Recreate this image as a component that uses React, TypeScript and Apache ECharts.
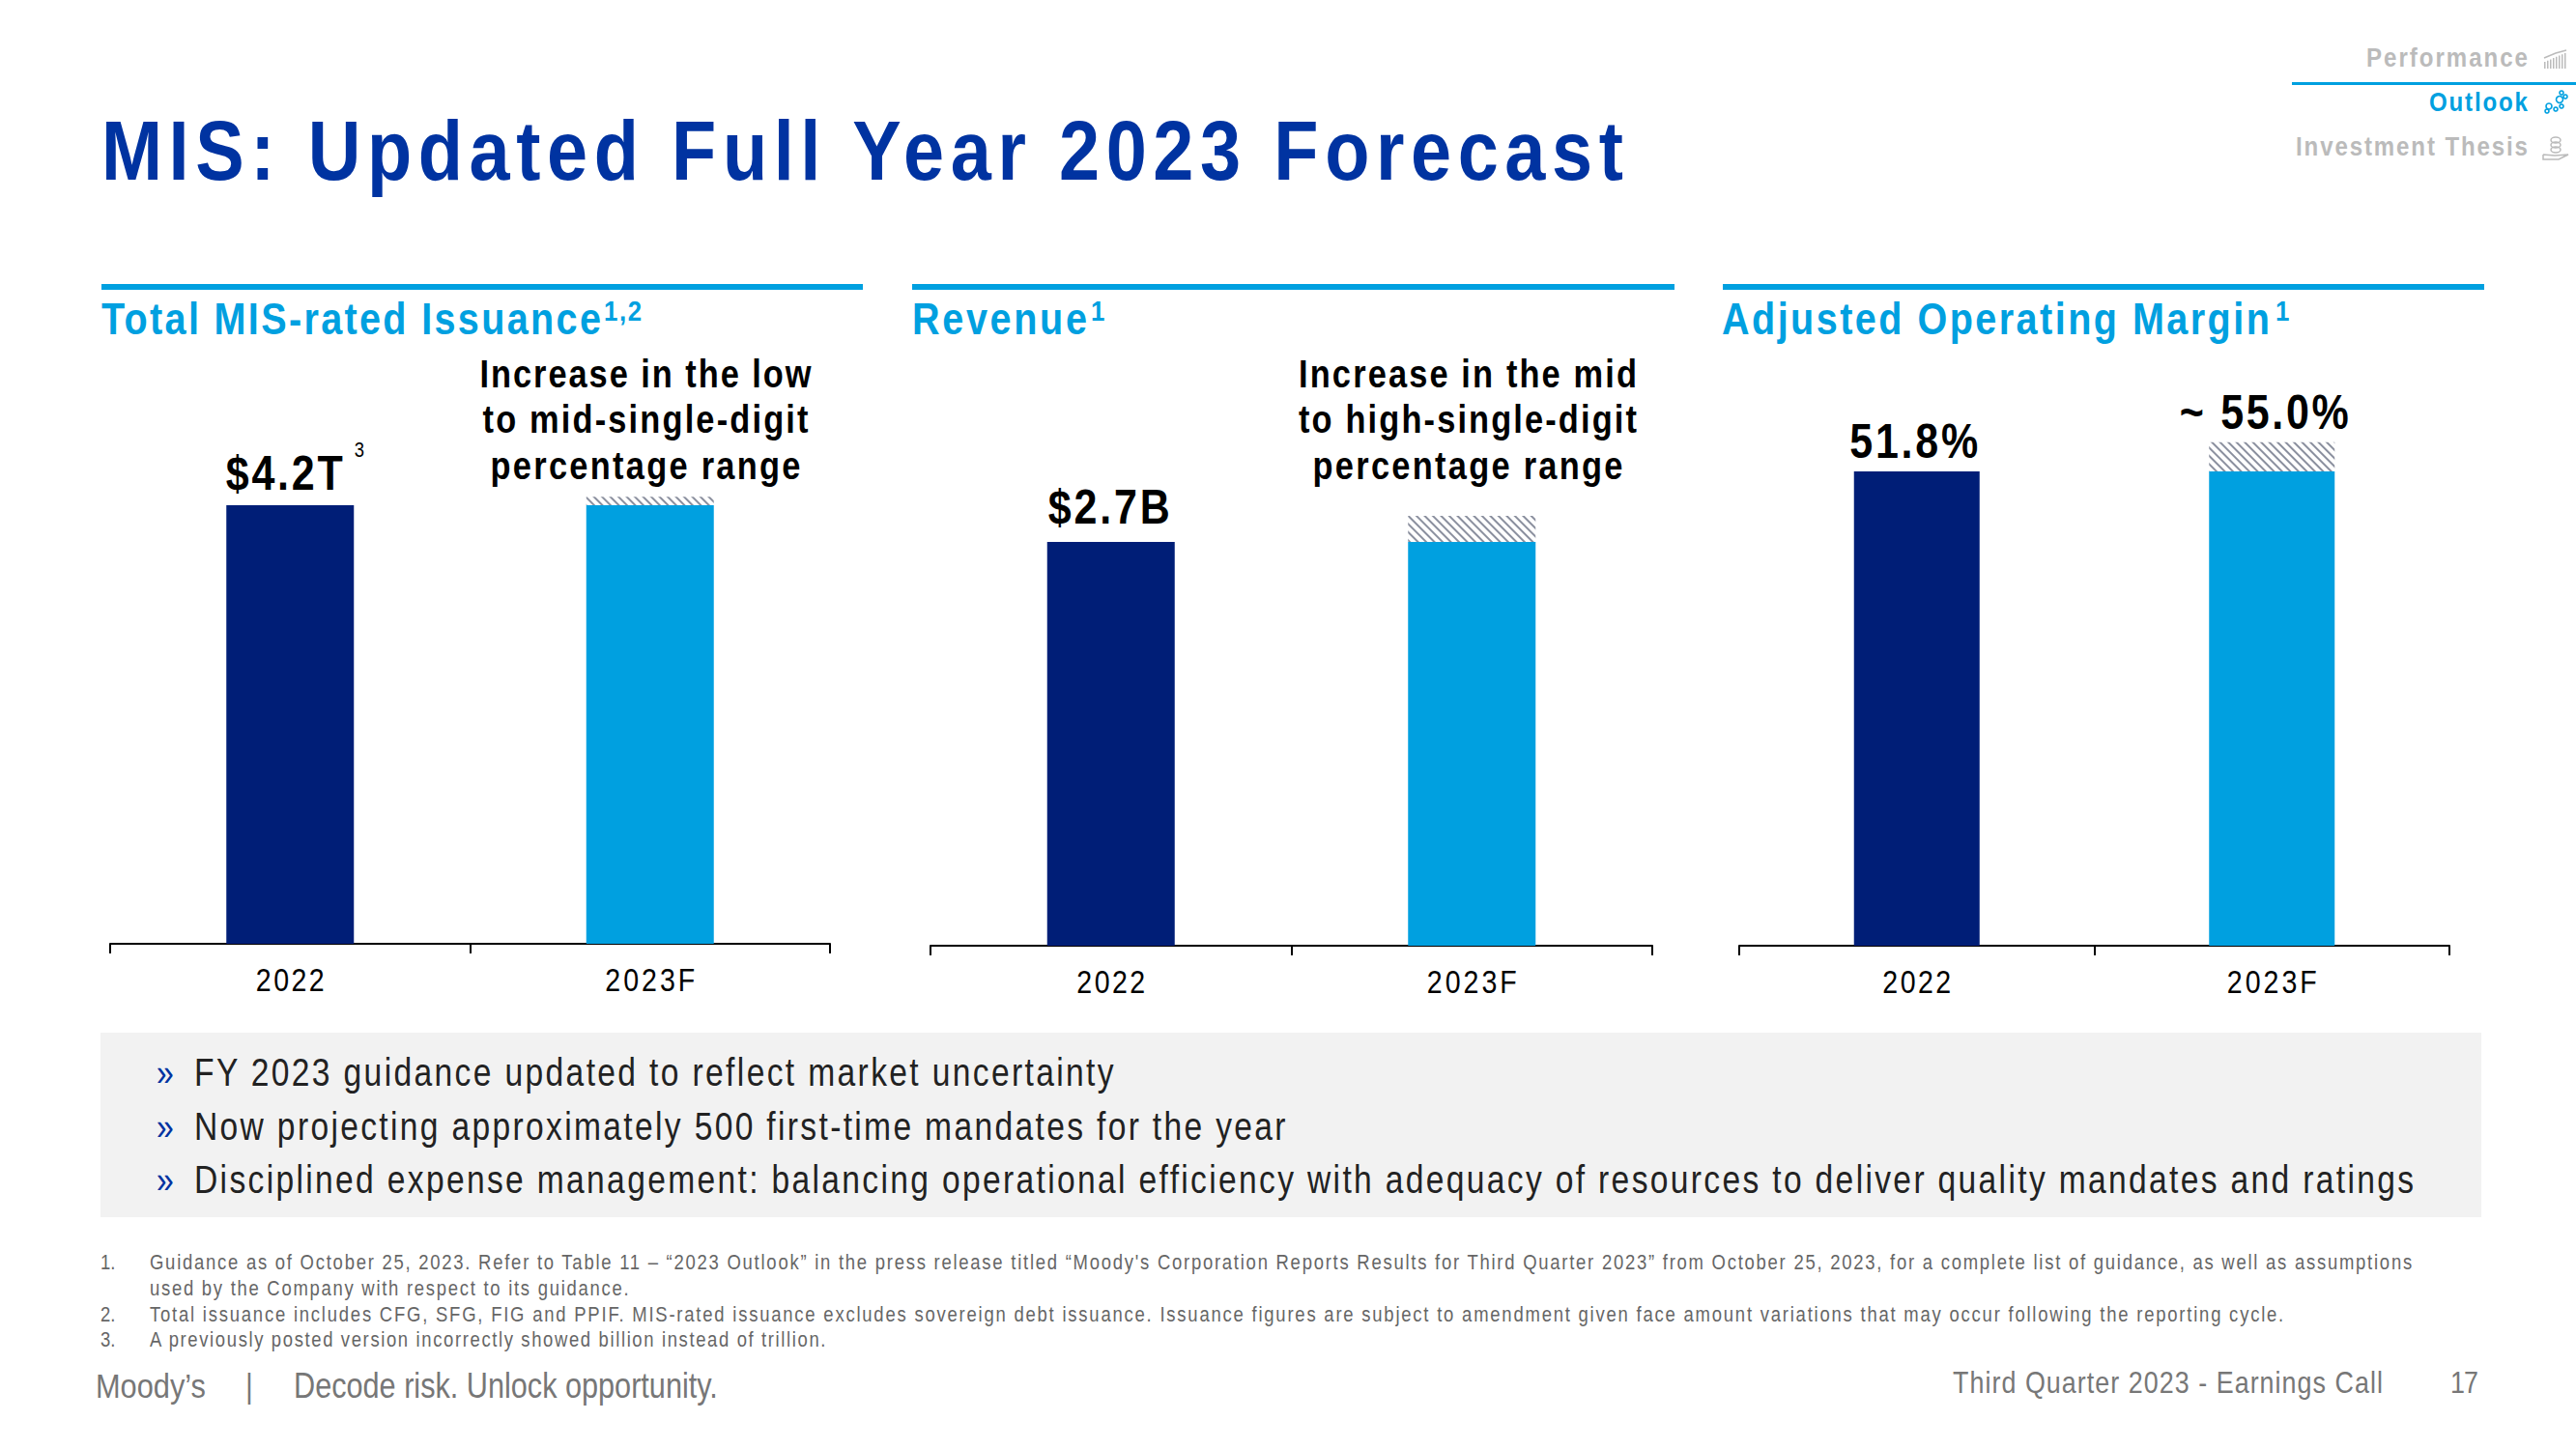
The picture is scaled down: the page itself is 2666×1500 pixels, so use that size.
import React, { useEffect, useRef } from "react";
import * as echarts from "echarts";

const categories = ["2022", "2023F"];
const issuance = [4.2, 4.2];
const issuanceRange = [null, 0.08];
const revenue = [2.7, 2.7];
const revenueRange = [null, 0.175];
const margin = [51.8, 51.8];
const marginRange = [null, 3.2];
const headers = ["Total MIS-rated Issuance", "Revenue", "Adjusted Operating Margin"];
const issuanceNote = ["Increase in the low", "to mid-single-digit", "percentage range"];
const revenueNote = ["Increase in the mid", "to high-single-digit", "percentage range"];
const bullets = [
  "FY 2023 guidance updated to reflect market uncertainty",
  "Now projecting approximately 500 first-time mandates for the year",
  "Disciplined expense management: balancing operational efficiency with adequacy of resources to deliver quality mandates and ratings",
];
const footnotes = [
  "Guidance as of October 25, 2023. Refer to Table 11 – “2023 Outlook” in the press release titled “Moody's Corporation Reports Results for Third Quarter 2023” from October 25, 2023, for a complete list of guidance, as well as assumptions",
  "used by the Company with respect to its guidance.",
  "Total issuance includes CFG, SFG, FIG and PPIF. MIS-rated issuance excludes sovereign debt issuance. Issuance figures are subject to amendment given face amount variations that may occur following the reporting cycle.",
  "A previously posted version incorrectly showed billion instead of trillion.",
];

const SANS = "'Liberation Sans',Arial,sans-serif";
const NAVY = "#001E77";
const SKY = "#00A0E0";
const TITLE = "#0033A1";
const GREY = "#BBBBBB";
const SQUEEZE_BOLD = 0.86;
const SQUEEZE_REGULAR = 0.84;

// target rendered width of each string: glyphs are condensed, the rest goes to letter spacing
const widths: Record<string, number> = {
  "MIS: Updated Full Year 2023 Forecast": 1575,
  [headers[0]]: 517, [headers[1]]: 181, [headers[2]]: 567,
  [issuanceNote[0]]: 343, [issuanceNote[1]]: 337, [issuanceNote[2]]: 321,
  [revenueNote[0]]: 350, [revenueNote[1]]: 350,
  "$4.2T": 121, "$2.7B": 126, "51.8%": 133, "~ 55.0%": 175,
  "2022": 71, "2023F": 93,
  Performance: 167, Outlook: 102, "Investment Thesis": 240,
  [bullets[0]]: 952, [bullets[1]]: 1130, [bullets[2]]: 2298,
  [footnotes[0]]: 2343, [footnotes[1]]: 496, [footnotes[2]]: 2210, [footnotes[3]]: 700,
  "Third Quarter 2023 - Earnings Call": 445, "17": 29,
  "1,2": 39,
};
// strings condensed to their width with no added spacing
const fitted: Record<string, number> = {
  "Moody’s": 114, "Decode risk. Unlock opportunity.": 439,
};

function t(text: string, x: number, y: number, size: number, opts: any = {}) {
  return {
    type: "text", x, y, silent: true,
    style: {
      text, fontSize: size, fontFamily: SANS, fontWeight: opts.weight || "normal",
      fill: opts.fill || "#000", textAlign: opts.align || "left", textVerticalAlign: "middle",
    },
  };
}
const rect = (x: number, y: number, w: number, h: number, fill: string) => ({
  type: "rect", silent: true, shape: { x, y, width: w, height: h }, style: { fill },
});
const dot = (cx: number, cy: number, r: number, stroke: string) => ({
  type: "circle", silent: true, shape: { cx, cy, r }, style: { fill: "none", stroke, lineWidth: 1.6 },
});

function panel(i: number, left: number, width: number, axisY: number, max: number, height: number, base: number[], range: (number | null)[], labels: any[]) {
  const hatch = {
    color: "#8A8F9E", backgroundColor: "#FFFFFF", symbol: "rect",
    dashArrayX: [1, 0], dashArrayY: [2, 4], rotation: Math.PI / 4, symbolSize: 1,
  };
  return {
    grid: { left, width, top: axisY - height, height },
    xAxis: {
      type: "category", gridIndex: i, data: categories,
      axisLine: { show: true, lineStyle: { color: "#000", width: 2 } },
      axisTick: { show: true, length: 10, alignWithLabel: false, lineStyle: { color: "#000", width: 2 } },
      axisLabel: { color: "#000", fontSize: 34, fontFamily: SANS, margin: i === 0 ? 21 : 21 },
    },
    yAxis: { type: "value", gridIndex: i, min: 0, max, show: false },
    series: [
      {
        type: "bar", xAxisIndex: i, yAxisIndex: i, stack: "s" + i, barWidth: i === 2 ? 130 : 132,
        data: base.map((v, k) => ({
          value: v,
          itemStyle: { color: k === 0 ? NAVY : SKY },
          label: k === 0 ? labels[0] : { show: false },
        })),
      },
      {
        type: "bar", xAxisIndex: i, yAxisIndex: i, stack: "s" + i, barWidth: i === 2 ? 130 : 132,
        data: range.map((v) => ({
          value: v,
          itemStyle: { color: "#FFFFFF", decal: hatch },
          label: labels[1] || { show: false },
        })),
      },
    ],
  };
}

const lab = (text: string, dx: number, dist: number) => ({
  show: true, position: "top", formatter: text, distance: dist, offset: [dx, 0],
  fontSize: 50, fontWeight: "bold", fontFamily: SANS, color: "#000",
});

export default function App() {
  const ref = useRef<HTMLDivElement>(null);
  useEffect(() => {
    const chart = echarts.init(ref.current!, undefined, { renderer: "svg" });
    const p = [
      panel(0, 114, 745, 977, 5, 540.5, issuance, issuanceRange, [lab("$4.2T", -6, 8)]),
      panel(1, 963, 747, 979, 3.2, 495.4, revenue, revenueRange, [lab("$2.7B", -2, 11)]),
      panel(2, 1800, 735, 979, 60, 568.7, margin, marginRange, [lab("51.8%", -3, 6), lab("~ 55.0%", -8, 6)]),
    ];
    const graphic: any[] = [
      rect(104, 1069, 2464, 191, "#F2F2F2"),
      rect(105, 294, 788, 6, SKY), rect(944, 294, 789, 6, SKY), rect(1783, 294, 788, 6, SKY),
      rect(2372, 85, 294, 3, SKY),
      t("MIS: Updated Full Year 2023 Forecast", 105, 155, 88, { weight: "bold", fill: TITLE }),
      t(headers[0], 105, 330, 46, { weight: "bold", fill: SKY }),
      t("1,2", 625, 322, 30, { weight: "bold", fill: SKY }),
      t(headers[1], 944, 330, 46, { weight: "bold", fill: SKY }),
      t("1", 1129, 322, 30, { weight: "bold", fill: SKY }),
      t(headers[2], 1782, 330, 46, { weight: "bold", fill: SKY }),
      t("1", 2355, 322, 30, { weight: "bold", fill: SKY }),
      t("3", 372, 465, 22, { align: "center" }),
      ...issuanceNote.map((s, i) => t(s, 668, 387 + i * 47.5, 40, { weight: "bold", align: "center" })),
      ...revenueNote.map((s, i) => t(s, 1519, 387 + i * 47.5, 40, { weight: "bold", align: "center" })),
      t("Performance", 2616, 59, 28, { weight: "bold", fill: GREY, align: "right" }),
      t("Outlook", 2616, 105, 28, { weight: "bold", fill: SKY, align: "right" }),
      t("Investment Thesis", 2616, 151, 28, { weight: "bold", fill: GREY, align: "right" }),
      ...[0, 1, 2, 3, 4, 5, 6, 7].map((k) => rect(2633 + k * 3, 64 - k * 1.3, 1.5, 7 + k * 1.3, GREY)),
      { type: "polyline", silent: true, shape: { points: [[2633, 60], [2645, 55], [2656, 52]] }, style: { stroke: GREY, fill: "none", lineWidth: 1.5 } },
      ...[[2636, 115, 2], [2638, 110, 3], [2645, 113, 2], [2651, 110, 2], [2649, 103, 3.5], [2655, 100, 2], [2651, 96, 2]].map((c) => dot(c[0], c[1], c[2], SKY)),
      { type: "ellipse", silent: true, shape: { cx: 2645, cy: 145, rx: 5, ry: 3 }, style: { fill: "none", stroke: GREY, lineWidth: 1.5 } },
      { type: "ellipse", silent: true, shape: { cx: 2645, cy: 150, rx: 5, ry: 3 }, style: { fill: "none", stroke: GREY, lineWidth: 1.5 } },
      { type: "ellipse", silent: true, shape: { cx: 2645, cy: 155, rx: 5, ry: 3 }, style: { fill: "none", stroke: GREY, lineWidth: 1.5 } },
      { type: "polyline", silent: true, shape: { points: [[2632, 160], [2632, 165], [2648, 165], [2658, 160], [2644, 161], [2632, 160]] }, style: { stroke: GREY, fill: "none", lineWidth: 1.5 } },
      ...bullets.flatMap((s, i) => [
        t("»", 162, [1110, 1166, 1221][i], 38, { fill: TITLE }),
        t(s, 201, [1110, 1166, 1221][i], 40, { fill: "#222" }),
      ]),
      t("1.", 104, 1306, 22, { fill: "#666" }),
      t("2.", 104, 1360, 22, { fill: "#666" }),
      t("3.", 104, 1386, 22, { fill: "#666" }),
      ...footnotes.map((s, i) => t(s, 155, [1306, 1333, 1360, 1386][i], 22, { fill: "#666" })),
      t("Moody’s", 99, 1435, 36, { fill: "#777" }),
      t("|", 258, 1435, 36, { fill: "#777", align: "center" }),
      t("Decode risk. Unlock opportunity.", 304, 1435, 36, { fill: "#777" }),
      t("Third Quarter 2023 - Earnings Call", 2021, 1431, 32, { fill: "#777" }),
      t("17", 2565, 1431, 32, { fill: "#777", align: "right" }),
    ];
    chart.setOption({
      animation: false,
      backgroundColor: "#FFFFFF",
      grid: p.map((x) => x.grid),
      xAxis: p.map((x) => x.xAxis),
      yAxis: p.map((x) => x.yAxis),
      series: p.flatMap((x) => x.series),
      graphic,
    });
    ref.current!.querySelectorAll("text").forEach((el: any) => {
      const s = (el.textContent || "").trim();
      const cur = el.getComputedTextLength();
      const cs = getComputedStyle(el);
      const bold = Number(cs.fontWeight) >= 600;
      let sx = bold ? SQUEEZE_BOLD : SQUEEZE_REGULAR;
      let ls = 0;
      if (fitted[s]) sx = fitted[s] / cur;
      else if (widths[s]) {
        ls = (widths[s] / sx - cur) / Math.max(1, s.length - 1);
        el.style.letterSpacing = ls + "px";
      }
      // the browser adds spacing after the last glyph too: keep the visible text on its anchor
      const anchor = el.getAttribute("text-anchor") || cs.textAnchor;
      const shift = anchor === "middle" ? (ls * sx) / 2 : anchor === "end" ? ls * sx : 0;
      const ax = Number(el.getAttribute("x") || 0);
      const prev = el.getAttribute("transform") || "";
      el.setAttribute("transform", `${prev} translate(${ax + shift} 0) scale(${sx} 1) translate(${-ax} 0)`);
    });
    return () => chart.dispose();
  }, []);
  return <div ref={ref} style={{ position: "absolute", left: 0, top: 0, width: 2666, height: 1500 }} />;
}
